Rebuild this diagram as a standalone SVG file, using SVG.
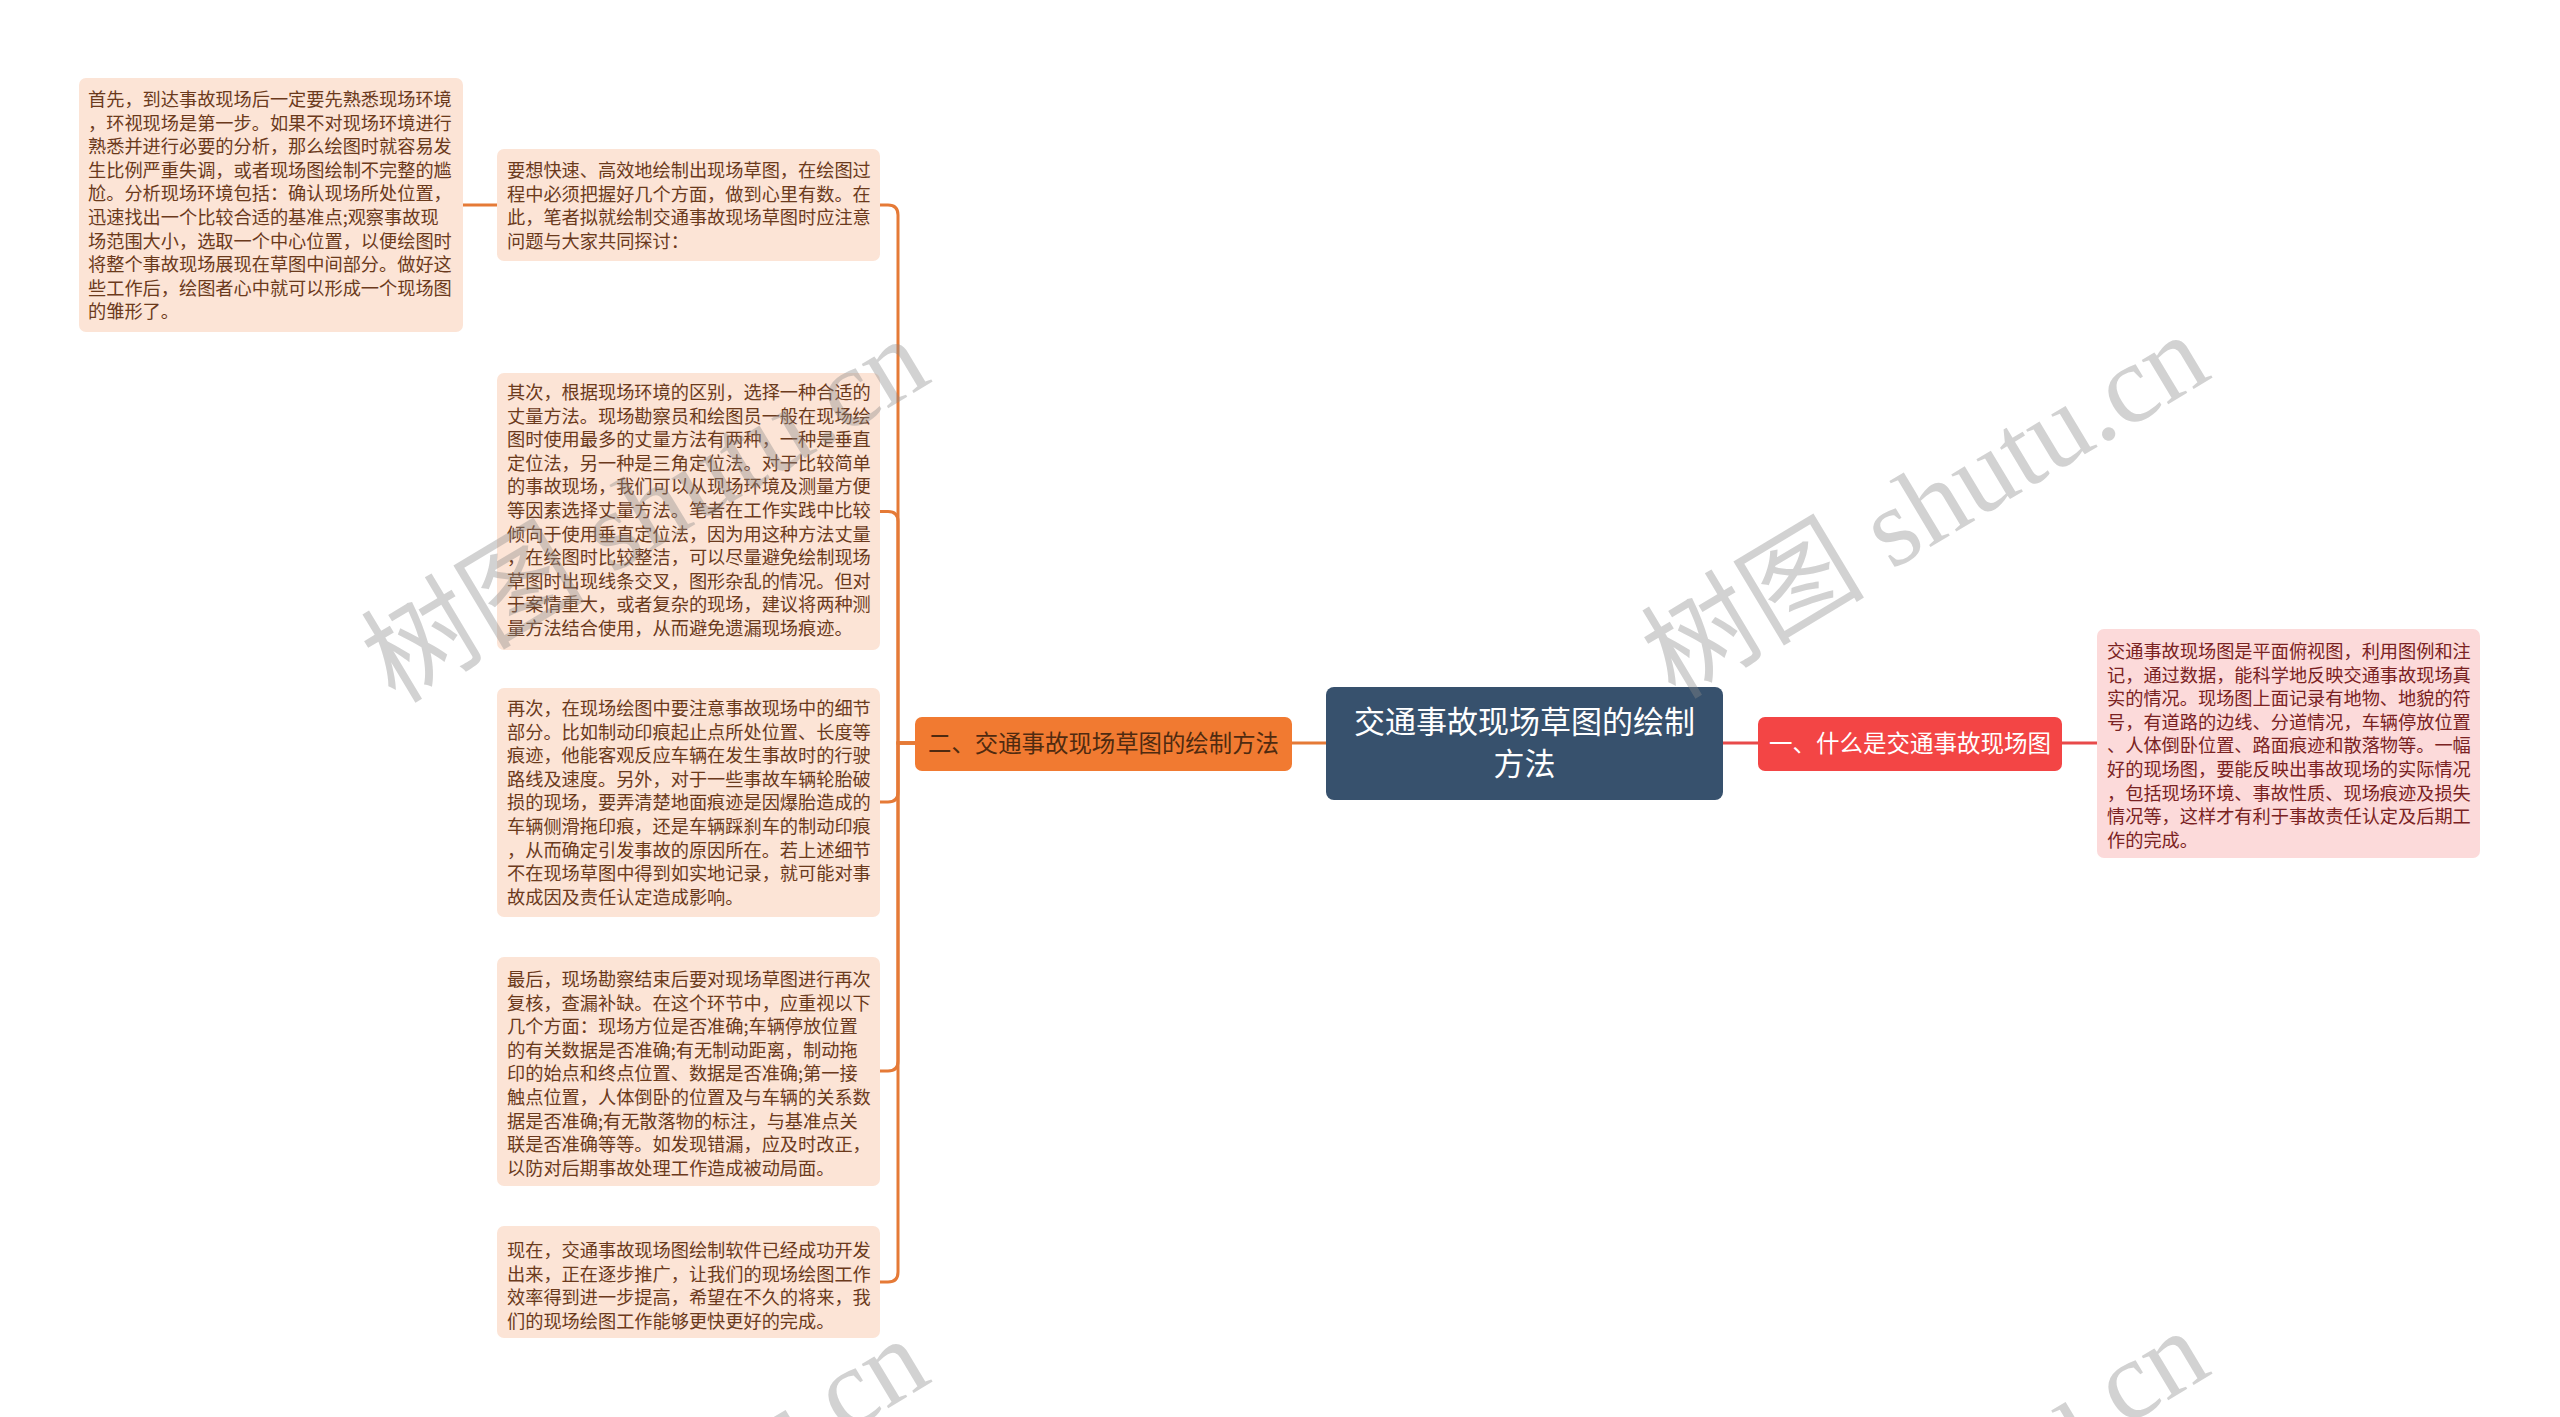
<svg xmlns="http://www.w3.org/2000/svg" width="2560" height="1417" viewBox="0 0 2560 1417">
<style>
.t{font-family:"Noto Sans CJK SC","Noto Sans CJK TC",sans-serif;font-size:18.2px;}
.lt{fill:#6b3a1c;}
.rt{fill:#7a2222;}
.lbox{fill:#fce4d6;}
.rbox{fill:#fcdada;}
.oc{fill:none;stroke:#e57a37;stroke-width:3;}
.rc{fill:none;stroke:#e84a4a;stroke-width:3;}
.wm{font-family:"Liberation Serif","Noto Sans CJK SC",serif;font-size:112px;fill:#8a8a8a;fill-opacity:0.38;}
</style>
<rect width="2560" height="1417" fill="#ffffff"/>
<g id="connectors">
<path class="oc" d="M463 205 H497"/>
<path class="oc" d="M915 743 H898 V215 Q898 205 888 205 H880"/>
<path class="oc" d="M915 743 H898 V521.5 Q898 511.5 888 511.5 H880"/>
<path class="oc" d="M915 743 H898 V792 Q898 802 888 802 H880"/>
<path class="oc" d="M915 743 H898 V1061 Q898 1071 888 1071 H880"/>
<path class="oc" d="M915 743 H898 V1272 Q898 1282 888 1282 H880"/>
<path class="oc" d="M1292 743 H1326"/>
<path class="rc" d="M1723 743 H1758"/>
<path class="rc" d="M2062 743 H2097"/>
</g>
<g id="root">
<rect x="1326" y="687" width="397" height="113" rx="8" fill="#37516d"/>
<text x="1524.5" y="733" text-anchor="middle" style="font-family:'Noto Sans CJK SC',sans-serif;font-size:31px;fill:#ffffff">交通事故现场草图的绘制</text>
<text x="1524.5" y="775" text-anchor="middle" style="font-family:'Noto Sans CJK SC',sans-serif;font-size:31px;fill:#ffffff">方法</text>
</g>
<g id="branch-2">
<rect x="915" y="717" width="377" height="54" rx="7" fill="#f17a31"/>
<text x="1103.5" y="752" text-anchor="middle" style="font-family:'Noto Sans CJK SC',sans-serif;font-size:23.4px;fill:#4f2a10">二、交通事故现场草图的绘制方法</text>
</g>
<g id="branch-1">
<rect x="1758" y="717" width="304" height="54" rx="7" fill="#f34545"/>
<text x="1910" y="752" text-anchor="middle" style="font-family:'Noto Sans CJK SC',sans-serif;font-size:23.5px;fill:#ffffff">一、什么是交通事故现场图</text>
</g>
<g id="node-first">
<rect class="lbox" x="79" y="78" width="384" height="254" rx="7"/>
<text class="t lt" x="88" y="106">
<tspan x="88" dy="0">首先，到达事故现场后一定要先熟悉现场环境</tspan>
<tspan x="88" dy="23.6">，环视现场是第一步。如果不对现场环境进行</tspan>
<tspan x="88" dy="23.6">熟悉并进行必要的分析，那么绘图时就容易发</tspan>
<tspan x="88" dy="23.6">生比例严重失调，或者现场图绘制不完整的尴</tspan>
<tspan x="88" dy="23.6">尬。分析现场环境包括：确认现场所处位置，</tspan>
<tspan x="88" dy="23.6">迅速找出一个比较合适的基准点;观察事故现</tspan>
<tspan x="88" dy="23.6">场范围大小，选取一个中心位置，以便绘图时</tspan>
<tspan x="88" dy="23.6">将整个事故现场展现在草图中间部分。做好这</tspan>
<tspan x="88" dy="23.6">些工作后，绘图者心中就可以形成一个现场图</tspan>
<tspan x="88" dy="23.6">的雏形了。</tspan>
</text>
</g>
<g id="node-intro">
<rect class="lbox" x="497" y="149" width="383" height="112" rx="7"/>
<text class="t lt" x="507" y="177">
<tspan x="507" dy="0">要想快速、高效地绘制出现场草图，在绘图过</tspan>
<tspan x="507" dy="23.6">程中必须把握好几个方面，做到心里有数。在</tspan>
<tspan x="507" dy="23.6">此，笔者拟就绘制交通事故现场草图时应注意</tspan>
<tspan x="507" dy="23.6">问题与大家共同探讨：</tspan>
</text>
</g>
<g id="node-second">
<rect class="lbox" x="497" y="373" width="383" height="277" rx="7"/>
<text class="t lt" x="507" y="399">
<tspan x="507" dy="0">其次，根据现场环境的区别，选择一种合适的</tspan>
<tspan x="507" dy="23.6">丈量方法。现场勘察员和绘图员一般在现场绘</tspan>
<tspan x="507" dy="23.6">图时使用最多的丈量方法有两种，一种是垂直</tspan>
<tspan x="507" dy="23.6">定位法，另一种是三角定位法。对于比较简单</tspan>
<tspan x="507" dy="23.6">的事故现场，我们可以从现场环境及测量方便</tspan>
<tspan x="507" dy="23.6">等因素选择丈量方法。笔者在工作实践中比较</tspan>
<tspan x="507" dy="23.6">倾向于使用垂直定位法，因为用这种方法丈量</tspan>
<tspan x="507" dy="23.6">，在绘图时比较整洁，可以尽量避免绘制现场</tspan>
<tspan x="507" dy="23.6">草图时出现线条交叉，图形杂乱的情况。但对</tspan>
<tspan x="507" dy="23.6">于案情重大，或者复杂的现场，建议将两种测</tspan>
<tspan x="507" dy="23.6">量方法结合使用，从而避免遗漏现场痕迹。</tspan>
</text>
</g>
<g id="node-third">
<rect class="lbox" x="497" y="688" width="383" height="229" rx="7"/>
<text class="t lt" x="507" y="715">
<tspan x="507" dy="0">再次，在现场绘图中要注意事故现场中的细节</tspan>
<tspan x="507" dy="23.6">部分。比如制动印痕起止点所处位置、长度等</tspan>
<tspan x="507" dy="23.6">痕迹，他能客观反应车辆在发生事故时的行驶</tspan>
<tspan x="507" dy="23.6">路线及速度。另外，对于一些事故车辆轮胎破</tspan>
<tspan x="507" dy="23.6">损的现场，要弄清楚地面痕迹是因爆胎造成的</tspan>
<tspan x="507" dy="23.6">车辆侧滑拖印痕，还是车辆踩刹车的制动印痕</tspan>
<tspan x="507" dy="23.6">，从而确定引发事故的原因所在。若上述细节</tspan>
<tspan x="507" dy="23.6">不在现场草图中得到如实地记录，就可能对事</tspan>
<tspan x="507" dy="23.6">故成因及责任认定造成影响。</tspan>
</text>
</g>
<g id="node-last">
<rect class="lbox" x="497" y="957" width="383" height="229" rx="7"/>
<text class="t lt" x="507" y="986">
<tspan x="507" dy="0">最后，现场勘察结束后要对现场草图进行再次</tspan>
<tspan x="507" dy="23.6">复核，查漏补缺。在这个环节中，应重视以下</tspan>
<tspan x="507" dy="23.6">几个方面：现场方位是否准确;车辆停放位置</tspan>
<tspan x="507" dy="23.6">的有关数据是否准确;有无制动距离，制动拖</tspan>
<tspan x="507" dy="23.6">印的始点和终点位置、数据是否准确;第一接</tspan>
<tspan x="507" dy="23.6">触点位置，人体倒卧的位置及与车辆的关系数</tspan>
<tspan x="507" dy="23.6">据是否准确;有无散落物的标注，与基准点关</tspan>
<tspan x="507" dy="23.6">联是否准确等等。如发现错漏，应及时改正，</tspan>
<tspan x="507" dy="23.6">以防对后期事故处理工作造成被动局面。</tspan>
</text>
</g>
<g id="node-now">
<rect class="lbox" x="497" y="1226" width="383" height="112" rx="7"/>
<text class="t lt" x="507" y="1257">
<tspan x="507" dy="0">现在，交通事故现场图绘制软件已经成功开发</tspan>
<tspan x="507" dy="23.6">出来，正在逐步推广，让我们的现场绘图工作</tspan>
<tspan x="507" dy="23.6">效率得到进一步提高，希望在不久的将来，我</tspan>
<tspan x="507" dy="23.6">们的现场绘图工作能够更快更好的完成。</tspan>
</text>
</g>
<g id="node-definition">
<rect class="rbox" x="2097" y="629" width="383" height="229" rx="7"/>
<text class="t rt" x="2107" y="658">
<tspan x="2107" dy="0">交通事故现场图是平面俯视图，利用图例和注</tspan>
<tspan x="2107" dy="23.6">记，通过数据，能科学地反映交通事故现场真</tspan>
<tspan x="2107" dy="23.6">实的情况。现场图上面记录有地物、地貌的符</tspan>
<tspan x="2107" dy="23.6">号，有道路的边线、分道情况，车辆停放位置</tspan>
<tspan x="2107" dy="23.6">、人体倒卧位置、路面痕迹和散落物等。一幅</tspan>
<tspan x="2107" dy="23.6">好的现场图，要能反映出事故现场的实际情况</tspan>
<tspan x="2107" dy="23.6">，包括现场环境、事故性质、现场痕迹及损失</tspan>
<tspan x="2107" dy="23.6">情况等，这样才有利于事故责任认定及后期工</tspan>
<tspan x="2107" dy="23.6">作的完成。</tspan>
</text>
</g>
<g id="watermarks">
<text class="wm" x="645" y="548" text-anchor="middle" transform="rotate(-31 645 510)">树图 shutu.cn</text>
<text class="wm" x="1925" y="544" text-anchor="middle" transform="rotate(-31 1925 506)">树图 shutu.cn</text>
<text class="wm" x="645" y="1548" text-anchor="middle" transform="rotate(-31 645 1510)">树图 shutu.cn</text>
<text class="wm" x="1925" y="1540" text-anchor="middle" transform="rotate(-31 1925 1502)">树图 shutu.cn</text>
</g>
</svg>
